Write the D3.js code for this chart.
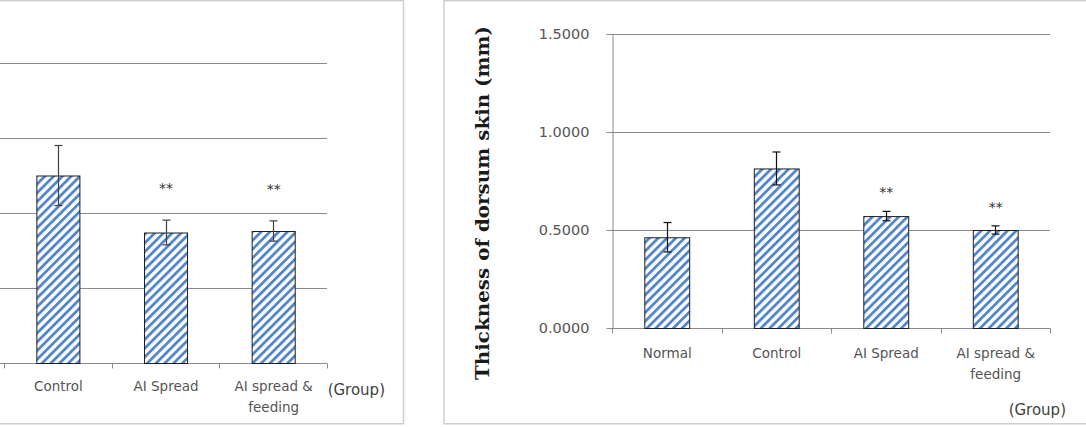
<!DOCTYPE html>
<html>
<head>
<meta charset="utf-8">
<script src="https://cdn.jsdelivr.net/npm/d3@7"></script>
<style>
  html, body { margin: 0; padding: 0; background: #fff; }
  svg { display: block; }
  text { font-family: "DejaVu Sans", sans-serif; }
</style>
</head>
<body>
<svg id="chart" width="1086" height="427"></svg>
<script>
// ---------------- data ----------------
const categories = ["Normal", "Control", "AI Spread", "AI spread & feeding"];
const categoryLines = [["Normal"], ["Control"], ["AI Spread"], ["AI spread &", "feeding"]];

// Left panel (y axis labels are cropped off in the reference; units = gridline steps)
const leftValues = [null, 2.50, 1.74, 1.76];
const leftErrors = [null, 0.40, 0.165, 0.135];
const leftStars  = ["", "", "**", "**"];
const leftGridTicks = [1, 2, 3, 4, 5];

// Right panel: thickness of dorsum skin (mm)
const rightValues = [0.463, 0.814, 0.571, 0.500];
const rightErrors = [0.075, 0.084, 0.024, 0.021];
const rightStars  = ["", "", "**", "**"];
const rightTicks  = [0, 0.5, 1.0, 1.5];

const yTitle = "Thickness of dorsum skin (mm)";
const xTitle = "(Group)";

// ---------------- drawing ----------------
const svg = d3.select("#chart");
const defs = svg.append("defs");
const pat = defs.append("pattern")
  .attr("id", "hatch")
  .attr("patternUnits", "userSpaceOnUse")
  .attr("width", 6.2).attr("height", 6.2)
  .attr("patternTransform", "rotate(45)");
pat.append("rect").attr("width", 6.2).attr("height", 6.2).attr("fill", "#ffffff");
pat.append("rect").attr("width", 2.8).attr("height", 6.2).attr("fill", "#5286c6");

const gridColor = "#8a8a8a";
const textColor = "#555555";

// panel frames
svg.append("rect").attr("x", -10).attr("y", 0.75).attr("width", 413.5).attr("height", 423)
  .attr("fill", "none").attr("stroke", "#cfcfcf").attr("stroke-width", 1.5);
svg.append("rect").attr("x", 444).attr("y", 0.75).attr("width", 660).attr("height", 423)
  .attr("fill", "none").attr("stroke", "#cfcfcf").attr("stroke-width", 1.5);

function drawPanel(g, opt) {
  const x = d3.scaleBand().domain(categories).range([opt.x0, opt.x1])
    .paddingInner(opt.pad).paddingOuter(opt.pad / 2);
  const y = d3.scaleLinear().domain(opt.yDomain).range([opt.yBase, opt.yTop]);
  const step = x.step();

  // gridlines
  g.append("g").selectAll("line").data(opt.gridTicks.filter(d => d !== 0)).join("line")
    .attr("x1", opt.x0).attr("x2", opt.x1)
    .attr("y1", d => Math.round(y(d)) + 0.5).attr("y2", d => Math.round(y(d)) + 0.5)
    .attr("stroke", gridColor).attr("stroke-width", 1);

  // y axis (right panel only)
  if (opt.yAxis) {
    const ax = g.append("g")
      .attr("transform", `translate(${opt.x0 + 0.5},0)`)
      .call(d3.axisLeft(y).tickValues(opt.gridTicks).tickFormat(d3.format(".4f"))
        .tickSize(6).tickSizeOuter(0).tickPadding(17));
    ax.select(".domain").attr("stroke", gridColor);
    ax.selectAll(".tick line").attr("stroke", gridColor);
    ax.selectAll(".tick text").attr("fill", textColor)
      .style("font-size", "14.5px").style("font-family", "'DejaVu Sans', sans-serif");
  }

  // x axis baseline with boundary ticks
  const by = Math.round(y(0)) + 0.5;
  g.append("line").attr("x1", opt.x0).attr("x2", opt.x1).attr("y1", by).attr("y2", by)
    .attr("stroke", gridColor);
  const bounds = categories.map(c => x(c) + x.bandwidth() / 2 - step / 2).concat([opt.x1]);
  g.append("g").selectAll("line").data(bounds).join("line")
    .attr("x1", d => Math.round(d) + 0.5).attr("x2", d => Math.round(d) + 0.5)
    .attr("y1", by).attr("y2", by + 5).attr("stroke", gridColor);

  // bars
  const idx = d3.range(categories.length).filter(i => opt.values[i] != null);
  g.append("g").selectAll("rect").data(idx).join("rect")
    .attr("x", i => x(categories[i]) + 0.5)
    .attr("y", i => y(opt.values[i]) + 0.5)
    .attr("width", x.bandwidth())
    .attr("height", i => y(0) - y(opt.values[i]))
    .attr("fill", "url(#hatch)")
    .attr("stroke", "#1e1e1e").attr("stroke-width", 1);

  // error bars
  const eg = g.append("g").attr("stroke", opt.errColor).attr("stroke-width", 1.2);
  idx.forEach(i => {
    const cx = Math.round(x(categories[i]) + x.bandwidth() / 2) + 0.5;
    const top = y(opt.values[i] + opt.errors[i]);
    const bot = y(opt.values[i] - opt.errors[i]);
    eg.append("line").attr("x1", cx).attr("x2", cx).attr("y1", top).attr("y2", bot);
    eg.append("line").attr("x1", cx - 4).attr("x2", cx + 4).attr("y1", top).attr("y2", top);
    eg.append("line").attr("x1", cx - 4).attr("x2", cx + 4).attr("y1", bot).attr("y2", bot);
  });

  // significance stars
  g.append("g").selectAll("text").data(idx.filter(i => opt.stars[i])).join("text")
    .attr("x", i => x(categories[i]) + x.bandwidth() / 2 + 0.5)
    .attr("y", i => y(opt.values[i] + opt.errors[i]) - opt.starGap)
    .attr("text-anchor", "middle")
    .attr("fill", "#333333").style("font-size", "14px")
    .text(i => opt.stars[i]);

  // category labels (only those whose centre is inside the visible picture)
  const lg = g.append("g");
  categories.forEach((c, i) => {
    const cx = x(c) + x.bandwidth() / 2 + 0.5;
    if (cx < 0) return;
    const t = lg.append("text")
      .attr("x", cx)
      .attr("y", by + opt.labelGap)
      .attr("text-anchor", "middle").attr("fill", textColor)
      .style("font-size", "13.5px");
    categoryLines[i].forEach((ln, k) => {
      t.append("tspan").attr("x", cx)
        .attr("dy", k === 0 ? 0 : 21).text(ln);
    });
  });

  // x title
  g.append("text").attr("x", opt.groupX).attr("y", opt.groupY)
    .attr("text-anchor", "end").attr("fill", "#404040")
    .style("font-size", "15px").text(xTitle);
}

// Left panel (cropped on the left side)
drawPanel(svg.append("g"), {
  x0: -103.6, x1: 327, pad: 0.6,
  yDomain: [0, 5], yBase: 363, yTop: -12,
  gridTicks: leftGridTicks,
  values: leftValues, errors: leftErrors, stars: leftStars,
  errColor: "#404040", starGap: 27,
  yAxis: false, labelGap: 27, groupX: 385, groupY: 395
});

// Right panel
drawPanel(svg.append("g"), {
  x0: 612, x1: 1050, pad: 0.59,
  yDomain: [0, 1.5], yBase: 328, yTop: 34,
  gridTicks: rightTicks,
  values: rightValues, errors: rightErrors, stars: rightStars,
  errColor: "#111111", starGap: 14,
  yAxis: true, labelGap: 29, groupX: 1066, groupY: 415
});

// Right y title
svg.append("text")
  .attr("transform", "translate(489,203) rotate(-90)")
  .attr("text-anchor", "middle")
  .attr("textLength", 354).attr("lengthAdjust", "spacingAndGlyphs")
  .style("font-family", "'DejaVu Serif', serif").style("font-weight", "bold")
  .style("font-size", "18px").attr("fill", "#1a1a1a")
  .text(yTitle);
</script>
</body>
</html>
